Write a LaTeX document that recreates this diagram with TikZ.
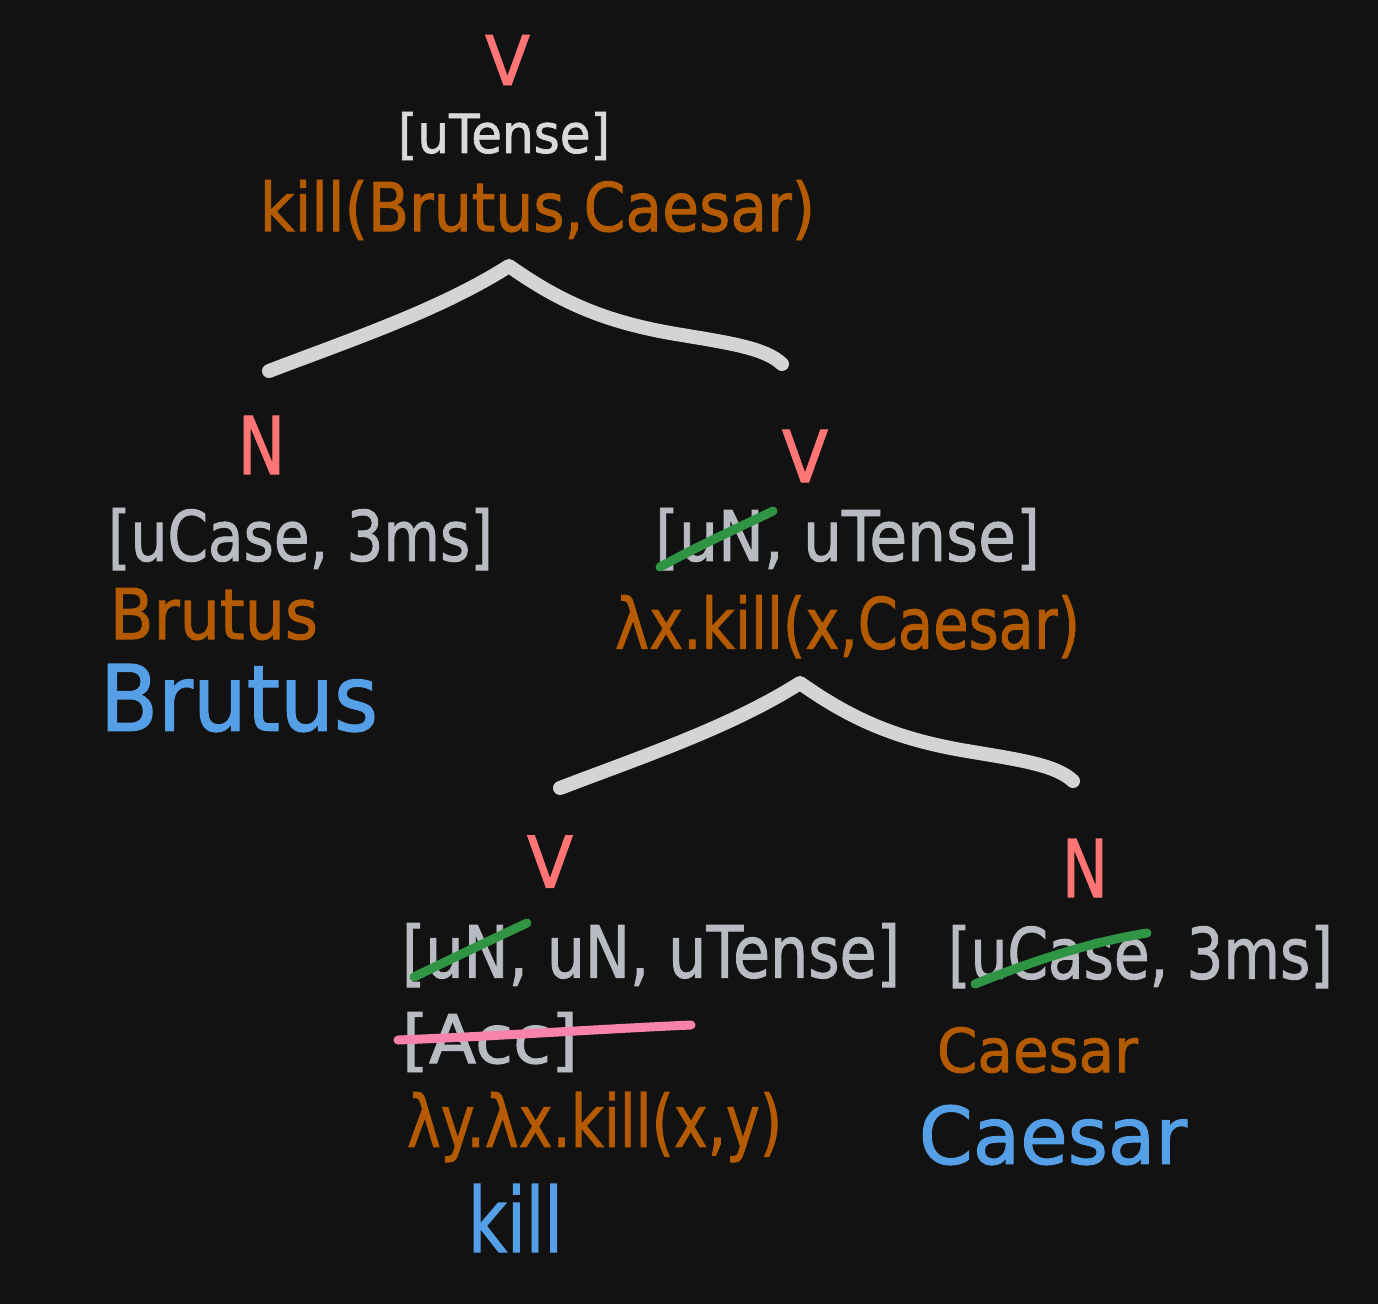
\documentclass[tikz,border=0pt]{standalone}
\usepackage{fontspec}
\usepackage{graphicx}
\setmainfont{DejaVu Sans}[FakeBold=1.4]
\definecolor{bgc}{HTML}{121212}
\definecolor{catred}{HTML}{FF7575}
\definecolor{featgrey}{HTML}{B8BCC2}
\definecolor{topgrey}{HTML}{D9D9D9}
\definecolor{semorange}{HTML}{B45A00}
\definecolor{wordblue}{HTML}{559FE6}
\definecolor{strikegreen}{HTML}{2F9444}
\definecolor{strikepink}{HTML}{F783AC}
\definecolor{branchgrey}{HTML}{D4D4D4}
% width and total height of a text
\newcommand\fwh[3]{\resizebox*{#1pt}{#2pt}{#3}}
\tikzset{
  txt/.style={inner sep=0pt, outer sep=0pt, anchor=center},
  cat/.style={txt, text=catred},
  feat/.style={txt, text=featgrey},
  sem/.style={txt, text=semorange},
  word/.style={txt, text=wordblue},
  branch/.style={draw=branchgrey, line width=14pt, line cap=round, line join=round},
  gstrike/.style={draw=strikegreen, line width=9pt, line cap=round},
  pstrike/.style={draw=strikepink, line width=9pt, line cap=round},
}
\begin{document}
\begin{tikzpicture}[x=1pt,y=-1pt]
\fill[bgc] (0,0) rectangle (1378,1304);
\useasboundingbox (0,0) rectangle (1378,1304);

% root
\node[cat] (rootV) at (507.5,60) {\fwh{45}{50}{V}};
\node[txt, text=topgrey] (rootF) at (504,136) {\fwh{212}{48}{[uTense]}};
\node[sem] (rootS) at (537.5,210) {\fwh{555}{60}{kill(Brutus,Caesar)}};

% branch 1
\draw[branch] (269,371) .. controls (350,340) and (440,310) .. (509,266)
  .. controls (560,302) and (605,322) .. (676,334)
  .. controls (730,343) and (765,348) .. (782,364);

% left N
\node[cat] (n1C) at (261.5,445) {\fwh{47}{58}{N}};
\node[feat] (n1F) at (300.5,539) {\fwh{385}{62}{[uCase, 3ms]}};
\node[sem] (n1S) at (214,614) {\fwh{208}{52}{Brutus}};
\node[word] (n1W) at (239,698) {\fwh{278}{68}{Brutus}};

% right V
\node[cat] (v1C) at (805,456) {\fwh{46}{52}{V}};
\node[feat] (v1F) at (847.5,539) {\fwh{385}{62}{[uN, uTense]}};
\node[sem] (v1S) at (847.5,626.5) {\fwh{465}{63}{λx.kill(x,Caesar)}};
\coordinate (s1a) at (660,567);
\coordinate (s1b) at (773,511);
\draw[gstrike] (s1a) .. controls (700,545) and (740,527) .. (s1b);

% branch 2
\begin{scope}[shift={(291,417)}]
\draw[branch] (269,371) .. controls (350,340) and (440,310) .. (509,266)
  .. controls (560,302) and (605,322) .. (676,334)
  .. controls (730,343) and (765,348) .. (782,364);
\end{scope}

% lower V
\node[cat] (v2C) at (550,861.5) {\fwh{46}{52}{V}};
\node[feat] (v2F) at (651,955) {\fwh{498}{64}{[uN, uN, uTense]}};
\node[feat] (v2G) at (490,1042) {\fwh{176}{60}{[Acc]}};
\node[sem] (v2S) at (594.5,1127) {\fwh{375}{70}{λy.λx.kill(x,y)}};
\node[word] (v2W) at (515.5,1218) {\fwh{95}{68}{kill}};
\coordinate (s2a) at (414,977);
\coordinate (s2b) at (527,923);
\draw[gstrike] (s2a) .. controls (455,957) and (495,938) .. (s2b);
\coordinate (s3a) at (398,1040);
\coordinate (s3b) at (691,1025);
\draw[pstrike] (s3a) .. controls (500,1036) and (600,1029) .. (s3b);

% lower N
\node[cat] (n2C) at (1085,868) {\fwh{46}{58}{N}};
\node[feat] (n2F) at (1140.5,956.5) {\fwh{385}{63}{[uCase, 3ms]}};
\node[sem] (n2S) at (1037.5,1050) {\fwh{201}{46}{Caesar}};
\node[word] (n2W) at (1053,1135) {\fwh{268}{60}{Caesar}};
\coordinate (s4a) at (975,984);
\coordinate (s4b) at (1147,933);
\draw[gstrike] (s4a) .. controls (1030,962) and (1090,942) .. (s4b);
\end{tikzpicture}
\end{document}
